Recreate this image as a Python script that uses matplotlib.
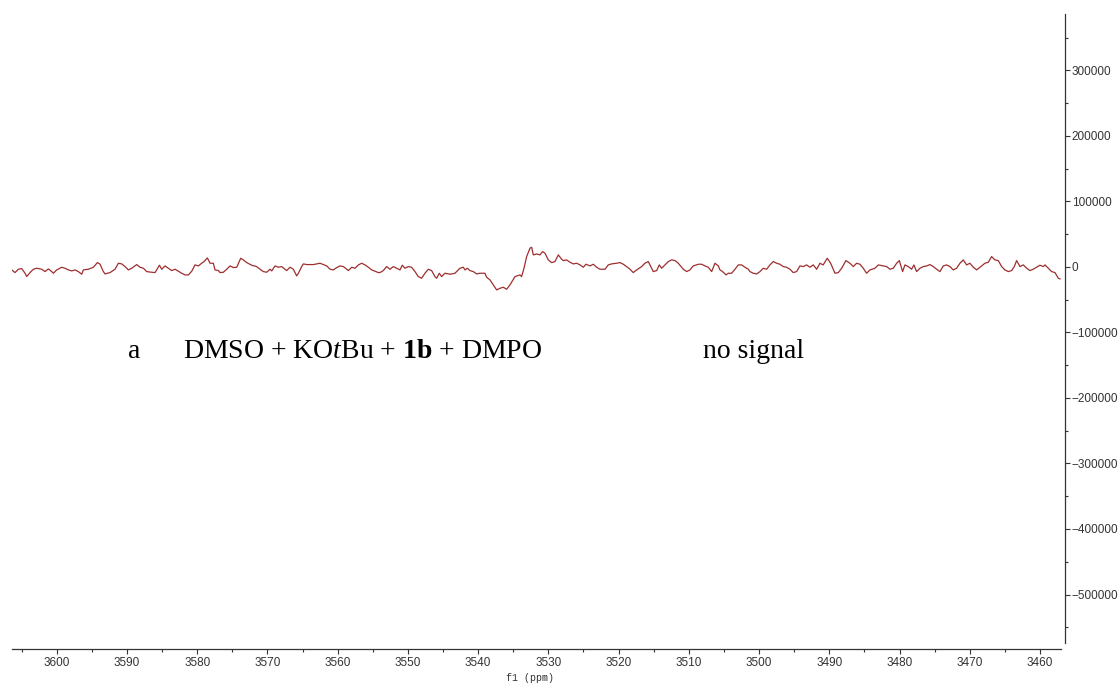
import matplotlib
matplotlib.use("Agg")
import matplotlib.pyplot as plt
from matplotlib.ticker import MultipleLocator, FuncFormatter

# EPR trace: field position (ppm axis) and signal intensity
ppm = [
    3606.41, 3605.94, 3605.46, 3604.99, 3604.51, 3604.27, 3603.80, 3603.32, 3602.85, 3602.14,
    3601.66, 3601.19, 3600.71, 3600.48, 3600.00, 3599.29, 3598.82, 3598.34, 3597.87, 3597.39,
    3596.92, 3596.44, 3596.21, 3595.49, 3594.78, 3594.21, 3593.83, 3593.36, 3593.12, 3592.41,
    3591.70, 3591.22, 3590.75, 3590.27, 3589.80, 3589.32, 3588.61, 3588.14, 3587.66, 3587.19,
    3586.48, 3586.00, 3585.38, 3585.05, 3584.58, 3584.10, 3583.63, 3583.15, 3582.68, 3582.20,
    3581.73, 3581.25, 3580.78, 3580.31, 3579.83, 3579.36, 3579.02, 3578.55, 3578.17, 3577.70,
    3577.46, 3576.98, 3576.75, 3576.27, 3575.80, 3575.32, 3574.85, 3574.37, 3573.80, 3573.43,
    3572.95, 3572.24, 3571.53, 3571.05, 3570.58, 3570.10, 3569.63, 3569.39, 3568.92, 3568.44,
    3567.97, 3567.49, 3567.26, 3566.78, 3566.31, 3565.83, 3565.59, 3565.12, 3564.88, 3564.41,
    3563.46, 3562.51, 3562.03, 3561.56, 3561.08, 3560.61, 3560.13, 3559.66, 3559.18, 3558.71,
    3558.47, 3558.00, 3557.52, 3557.05, 3556.58, 3556.10, 3555.63, 3555.15, 3554.68, 3554.20,
    3553.98, 3553.50, 3553.03, 3552.55, 3552.08, 3551.60, 3551.13, 3550.80, 3550.42, 3549.94,
    3549.47, 3548.99, 3548.52, 3548.04, 3547.57, 3547.09, 3546.62, 3546.15, 3545.91, 3545.53,
    3545.20, 3544.72, 3544.01, 3543.30, 3542.59, 3542.11, 3541.87, 3541.54, 3541.16, 3540.69,
    3540.21, 3539.74, 3539.03, 3538.79, 3538.31, 3537.84, 3537.36, 3536.89, 3536.42, 3535.94,
    3535.47, 3534.75, 3534.04, 3533.81, 3533.47, 3533.09, 3532.62, 3532.38, 3532.14, 3531.67,
    3531.19, 3530.82, 3530.48, 3530.01, 3529.53, 3529.06, 3528.58, 3528.11, 3527.87, 3527.40,
    3526.92, 3526.45, 3525.97, 3525.50, 3525.02, 3524.65, 3524.08, 3523.60, 3523.13, 3522.65,
    3521.94, 3521.47, 3520.99, 3520.28, 3519.80, 3519.33, 3518.86, 3518.38, 3517.91, 3517.43,
    3516.72, 3516.25, 3515.77, 3515.30, 3515.06, 3514.58, 3514.20, 3513.87, 3513.40, 3512.92,
    3512.45, 3511.97, 3511.50, 3510.79, 3510.31, 3509.84, 3509.36, 3508.65, 3508.18, 3507.70,
    3507.23, 3506.75, 3506.28, 3505.80, 3505.57, 3505.19, 3504.71, 3504.38, 3503.91, 3503.43,
    3502.96, 3502.48, 3502.01, 3501.53, 3501.30, 3500.82, 3500.35, 3499.87, 3499.40, 3498.92,
    3498.45, 3497.97, 3497.50, 3497.03, 3496.55, 3496.08, 3495.60, 3495.13, 3494.65, 3494.18,
    3493.70, 3493.23, 3492.75, 3492.28, 3491.80, 3491.33, 3490.87, 3490.29, 3489.81, 3489.19,
    3488.72, 3488.24, 3487.63, 3487.06, 3486.58, 3486.11, 3485.63, 3485.16, 3484.69, 3484.21,
    3483.50, 3483.02, 3482.31, 3481.84, 3481.36, 3480.89, 3480.41, 3480.03, 3479.56, 3479.23,
    3478.75, 3478.28, 3477.95, 3477.57, 3477.09, 3476.62, 3476.14, 3475.67, 3475.19, 3474.72,
    3474.24, 3473.77, 3473.29, 3472.82, 3472.35, 3471.87, 3471.40, 3470.92, 3470.45, 3469.97,
    3469.50, 3469.02, 3468.55, 3467.84, 3467.36, 3466.89, 3466.41, 3465.94, 3465.46, 3464.99,
    3464.51, 3464.04, 3463.66, 3463.33, 3462.85, 3462.38, 3461.90, 3461.43, 3460.96, 3460.48,
    3460.01, 3459.53, 3459.29, 3458.82, 3458.34, 3457.87, 3457.39, 3457.16,
]
intensity = [
    -4600, -8650, -3560, -2545, -9670, -14760, -8650, -3560, -2040, -3560,
    -7130, -3050, -7130, -9670, -4580, -510, -2040, -4580, -6110, -4580,
    -7130, -11200, -4580, -3560, -510, 6620, 4070, -7130, -10690, -8650,
    -3560, 5600, 4580, 510, -4580, -2040, 3560, -510, -2040, -7130,
    -8140, -8650, 2550, -3560, 1530, -2040, -5600, -3560, -6620, -9670,
    -12220, -12220, -6620, 3050, 1530, 5600, 8140, 13740, 5600, 5600,
    -4580, -5600, -8650, -8140, -3560, 1530, -1020, -510, 13230, 10690,
    6620, 2550, 510, -3560, -7130, -8140, -3560, -6110, 1530, -510,
    510, -3560, -5600, -510, -3560, -13740, -9670, 510, 4580, 3560,
    3560, 5600, 3560, 1530, -3560, -4580, -1020, 1530, 510, -3560,
    -5600, -510, -2040, 3050, 5600, 3050, -510, -4580, -6620, -8650,
    -8650, -5600, 510, -3560, 510, -2040, -4580, 2550, -2040, 510,
    -510, -7130, -14760, -17310, -9670, -3560, -5600, -14760, -17310, -9670,
    -14760, -9670, -11200, -9670, -2040, -510, -4580, -2040, -5600, -7130,
    -10690, -9670, -9670, -15780, -19850, -27490, -35120, -32580, -31050, -34100,
    -27490, -14760, -12220, -14760, -2040, 15780, 28500, 30030, 18320, 19850,
    18320, 23410, 20870, 10690, 6620, 8140, 18320, 11710, 9670, 10690,
    7130, 4580, 5600, 3050, -510, 4070, 1530, 4070, -510, -3560,
    -3560, 3050, 4580, 5600, 6620, 4070, 510, -3560, -8650, -4580,
    510, 5600, 8140, -2040, -7130, -5600, 3050, -2040, 3050, 8140,
    10690, 9670, 5600, -3560, -7130, -4580, 1530, 4070, 4070, 1530,
    -510, -7130, 5600, 1530, -4580, -7130, -12220, -9670, -9670, -3560,
    3050, 3050, -510, -3560, -7130, -9670, -10690, -7130, -2040, -3560,
    3050, 8140, 5600, 4070, 510, -510, -3560, -8650, -7130, 1530,
    510, 3050, -510, 3050, -3560, 5600, 3050, 13230, 5600, -9670,
    -8650, -2040, 9670, 5600, 510, 5600, 4070, -2040, -9670, -4580,
    -2040, 3050, 1530, 510, -3560, -2040, 5600, 9670, -7130, 3050,
    510, -3560, 3050, -7130, -2040, 510, 1530, 3560, 510, -3560,
    -7130, 1530, 3050, 510, -4580, -2040, 5600, 10690, 3050, 5600,
    -510, -4580, -510, 5600, 7130, 15780, 10690, 9670, 510, -4580,
    -7130, -5600, 510, 9670, 510, 3050, -2040, -5600, -3560, -510,
    2550, 510, 3050, -2040, -7130, -8650, -17310, -18320,
]

x_major = 10
x_minor = 5
y_major = 100000
y_minor = 50000
x_range = (3606.41, 3457.01)
y_range = (-574000, 386000)

W, H, DPI = 1118, 684, 100
fig = plt.figure(figsize=(W / DPI, H / DPI), dpi=DPI)
fig.patch.set_facecolor("white")

ax_left, ax_right, ax_top, ax_bottom = 11.7, 1061.0, 14.0, 643.0
ax = fig.add_axes([ax_left / W, (H - ax_bottom) / H,
                   (ax_right - ax_left) / W, (ax_bottom - ax_top) / H])

ax.plot(ppm, intensity, color="#9e2f2f", lw=0.9, solid_joinstyle="round")

ax.set_xlim(*x_range)
ax.set_ylim(*y_range)

spine_col = "#333333"
for side in ("left", "top"):
    ax.spines[side].set_visible(False)
ax.spines["bottom"].set_position(("outward", 4.3))
ax.spines["right"].set_position(("outward", 3.1))
for side in ("bottom", "right"):
    ax.spines[side].set_color(spine_col)
    ax.spines[side].set_linewidth(0.9)

ax.xaxis.set_major_locator(MultipleLocator(x_major))
ax.xaxis.set_minor_locator(MultipleLocator(x_minor))
ax.yaxis.set_major_locator(MultipleLocator(y_major))
ax.yaxis.set_minor_locator(MultipleLocator(y_minor))
ax.yaxis.tick_right()
ax.xaxis.set_major_formatter(FuncFormatter(lambda v, p: f"{v:.0f}"))
ax.yaxis.set_major_formatter(FuncFormatter(lambda v, p: f"{v:.0f}".replace("-", "\u2212")))

ax.tick_params(axis="both", which="major", direction="out", length=3.6, width=0.8,
               color=spine_col, labelcolor="#333333", labelsize=8.5)
ax.tick_params(axis="both", which="minor", direction="out", length=2.2, width=0.8,
               color=spine_col)
ax.tick_params(axis="x", pad=2.5)
ax.tick_params(axis="y", pad=1.0)
for lab in ax.get_xticklabels() + ax.get_yticklabels():
    lab.set_fontfamily("Liberation Sans")

fig.text(530 / W, (H - 678) / H, "f1 (ppm)", ha="center", va="center",
         family="Liberation Mono", fontsize=7.2, color="#333333")

plt.rcParams["mathtext.fontset"] = "custom"
plt.rcParams["mathtext.rm"] = "Liberation Serif"
plt.rcParams["mathtext.it"] = "Liberation Serif:italic"
plt.rcParams["mathtext.bf"] = "Liberation Serif:bold"

label_size = 20
baseline = (H - 358) / H
fig.text(128 / W, baseline, "a", ha="left", va="baseline",
         family="Liberation Serif", fontsize=label_size, color="black")
fig.text(183 / W, baseline, r"DMSO + KO$\mathit{t}$Bu + $\mathbf{1b}$ + DMPO",
         ha="left", va="baseline", family="Liberation Serif",
         fontsize=label_size, color="black")
fig.text(703 / W, baseline, "no signal", ha="left", va="baseline",
         family="Liberation Serif", fontsize=label_size, color="black")

fig.savefig("out.png", dpi=DPI, facecolor="white")
